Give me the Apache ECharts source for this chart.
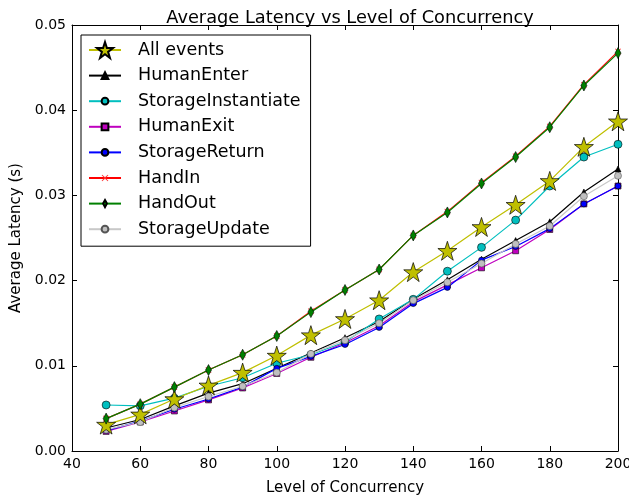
<!DOCTYPE html>
<html>
<head>
<meta charset="utf-8">
<script src="https://cdn.jsdelivr.net/npm/echarts@6/dist/echarts.min.js"></script>
<style>html,body{margin:0;padding:0;background:#fff;}#c{width:629px;height:495px;}</style>
</head>
<body>
<div id="c"></div>
<script>
var concurrency = [50, 60, 70, 80, 90, 100, 110, 120, 130, 140, 150, 160, 170, 180, 190, 200];
var allEvents = [0.0031, 0.0043, 0.0061, 0.0077, 0.0092, 0.0112, 0.0136, 0.0155, 0.0177, 0.0210, 0.0235, 0.0263, 0.0289, 0.0317, 0.0357, 0.0387];
var humanEnter = [0.0027, 0.0037, 0.0053, 0.0068, 0.0079, 0.0097, 0.0115, 0.0133, 0.0152, 0.0178, 0.0201, 0.0225, 0.0247, 0.0269, 0.0304, 0.0331];
var storageInstantiate = [0.0054, 0.0053, 0.0062, 0.0076, 0.0086, 0.0103, 0.0113, 0.0128, 0.0155, 0.0178, 0.0211, 0.0239, 0.0271, 0.0311, 0.0345, 0.0360];
var humanExit = [0.0023, 0.0034, 0.0047, 0.0060, 0.0074, 0.0091, 0.0110, 0.0127, 0.0147, 0.0175, 0.0195, 0.0215, 0.0235, 0.0260, 0.0290, 0.0311];
var storageReturn = [0.0024, 0.0035, 0.0049, 0.0061, 0.0075, 0.0097, 0.0111, 0.0125, 0.0145, 0.0173, 0.0192, 0.0224, 0.0240, 0.0261, 0.0290, 0.0311];
var handIn = [0.0038, 0.0055, 0.0075, 0.0095, 0.0113, 0.0135, 0.0164, 0.0189, 0.0213, 0.0253, 0.0281, 0.0315, 0.0346, 0.0381, 0.0430, 0.0469];
var handOut = [0.0038, 0.0055, 0.0075, 0.0095, 0.0113, 0.0135, 0.0163, 0.0189, 0.0213, 0.0253, 0.0280, 0.0314, 0.0345, 0.0380, 0.0429, 0.0467];
var storageUpdate = [0.0025, 0.0034, 0.0051, 0.0064, 0.0076, 0.0092, 0.0114, 0.0130, 0.0150, 0.0177, 0.0198, 0.0220, 0.0243, 0.0264, 0.0299, 0.0323];
var xTicks = [40, 60, 80, 100, 120, 140, 160, 180, 200];
var yTicks = [0.00, 0.01, 0.02, 0.03, 0.04, 0.05];

function pairs(vals) { return concurrency.map(function (x, i) { return [x, vals[i]]; }); }

var FONT = 'DejaVu Sans';
// marker shapes padded inside a 0..100 box so that legend markers stay small
var PAD = 'M0,0M100,100';
var F = 0.42; // fraction of the box the marker occupies
var starSym = 'path://M50,0L61.8,35.5L99,35.5L69,57.5L80.5,93L50,71L19.5,93L31,57.5L1,35.5L38.2,35.5Z';
var triSym = 'path://' + PAD + 'M50,29L71,71L29,71Z';
var circSym = 'path://' + PAD + 'M71,50A21,21,0,1,1,29,50A21,21,0,1,1,71,50Z';
var rectSym = 'path://' + PAD + 'M29,29L71,29L71,71L29,71Z';
var xSym = 'path://' + PAD + 'M29,33L33,29L50,46L67,29L71,33L54,50L71,67L67,71L50,54L33,71L29,67L46,50Z';
var diamondSym = 'path://' + PAD + 'M50,28L62,50L50,72L38,50Z';

function mk(name, vals, color, symbol, size, fill, opts) {
  return {
    name: name, type: 'line', data: pairs(vals),
    symbol: symbol, symbolSize: size, showSymbol: true,
    lineStyle: { color: color, width: 1.2 },
    itemStyle: { color: fill, borderColor: (opts && opts.border) || '#000', borderWidth: (opts && opts.bw !== undefined) ? opts.bw : 0.6 },
    emphasis: { disabled: true }, animation: false, z: (opts && opts.z) || 2
  };
}

var series = [
  mk('All events', allEvents, '#bfbf00', starSym, 19, '#bfbf00', { bw: 0.7, z: 3 }),
  mk('HumanEnter', humanEnter, '#000000', triSym, 6 / F, '#000000', {}),
  mk('StorageInstantiate', storageInstantiate, '#00bfbf', circSym, 8 / F, '#00bfbf', {}),
  mk('HumanExit', humanExit, '#bf00bf', rectSym, 6 / F, '#bf00bf', {}),
  mk('StorageReturn', storageReturn, '#0000ff', circSym, 6 / F, '#0000ff', {}),
  mk('HandIn', handIn, '#ff0000', xSym, 6 / F, '#ff3333', { bw: 0, border: '#ff0000' }),
  mk('HandOut', handOut, '#008000', diamondSym, [6 / 0.24, 11 / 0.44], '#008000', { z: 4 }),
  mk('StorageUpdate', storageUpdate, '#c8c8c8', circSym, 7 / F, '#bfbfbf', { border: '#555' })
];

var chart = echarts.init(document.getElementById('c'), null, { renderer: 'canvas' });
var axisCommon = {
  axisLine: { show: true, onZero: false, lineStyle: { color: '#000', width: 1 } },
  axisTick: { show: true, inside: true, length: 5, lineStyle: { color: '#000' } },
  splitLine: { show: false }
};
chart.setOption({
  backgroundColor: '#fff',
  animation: false,
  title: {
    text: 'Average Latency vs Level of Concurrency',
    left: 345, top: 4, textAlign: 'center',
    textStyle: { fontFamily: FONT, fontSize: 17.8, fontWeight: 'normal', color: '#000' }
  },
  grid: { left: 72, right: 11, top: 25, bottom: 44, containLabel: false, outerBoundsMode: 'none' },
  legend: {
    orient: 'vertical', left: 81, top: 35,
    padding: [5, 10, 7, 7], itemGap: 5.6, itemWidth: 32, itemHeight: 20,
    borderColor: '#000', borderWidth: 1, backgroundColor: '#fff',
    textStyle: { fontFamily: FONT, fontSize: 17.5, lineHeight: 20, color: '#000', padding: [0, 0, 0, 12] },
    selectedMode: false,
    data: series.map(function (s) { return s.name; })
  },
  xAxis: [
    Object.assign({
      type: 'value', min: xTicks[0], max: xTicks[xTicks.length - 1], interval: 20,
      name: 'Level of Concurrency', nameLocation: 'middle', nameGap: 30,
      nameTextStyle: { fontFamily: FONT, fontSize: 15, color: '#000' },
      axisLabel: { fontFamily: FONT, fontSize: 14, color: '#000', margin: 6, showMaxLabel: true, showMinLabel: true }
    }, axisCommon),
    Object.assign({
      type: 'value', position: 'top', min: 40, max: 200, interval: 20,
      axisLabel: { show: false }
    }, axisCommon)
  ],
  yAxis: [
    Object.assign({
      type: 'value', min: yTicks[0], max: yTicks[yTicks.length - 1], interval: 0.01,
      name: 'Average Latency (s)', nameLocation: 'middle', nameGap: 46,
      nameTextStyle: { fontFamily: FONT, fontSize: 15, color: '#000' },
      axisLabel: { fontFamily: FONT, fontSize: 14, color: '#000', margin: 6, formatter: function (v) { return v.toFixed(2); } }
    }, axisCommon),
    Object.assign({
      type: 'value', position: 'right', min: 0, max: 0.05, interval: 0.01,
      axisLabel: { show: false }
    }, axisCommon)
  ],
  series: series
});
</script>
</body>
</html>
